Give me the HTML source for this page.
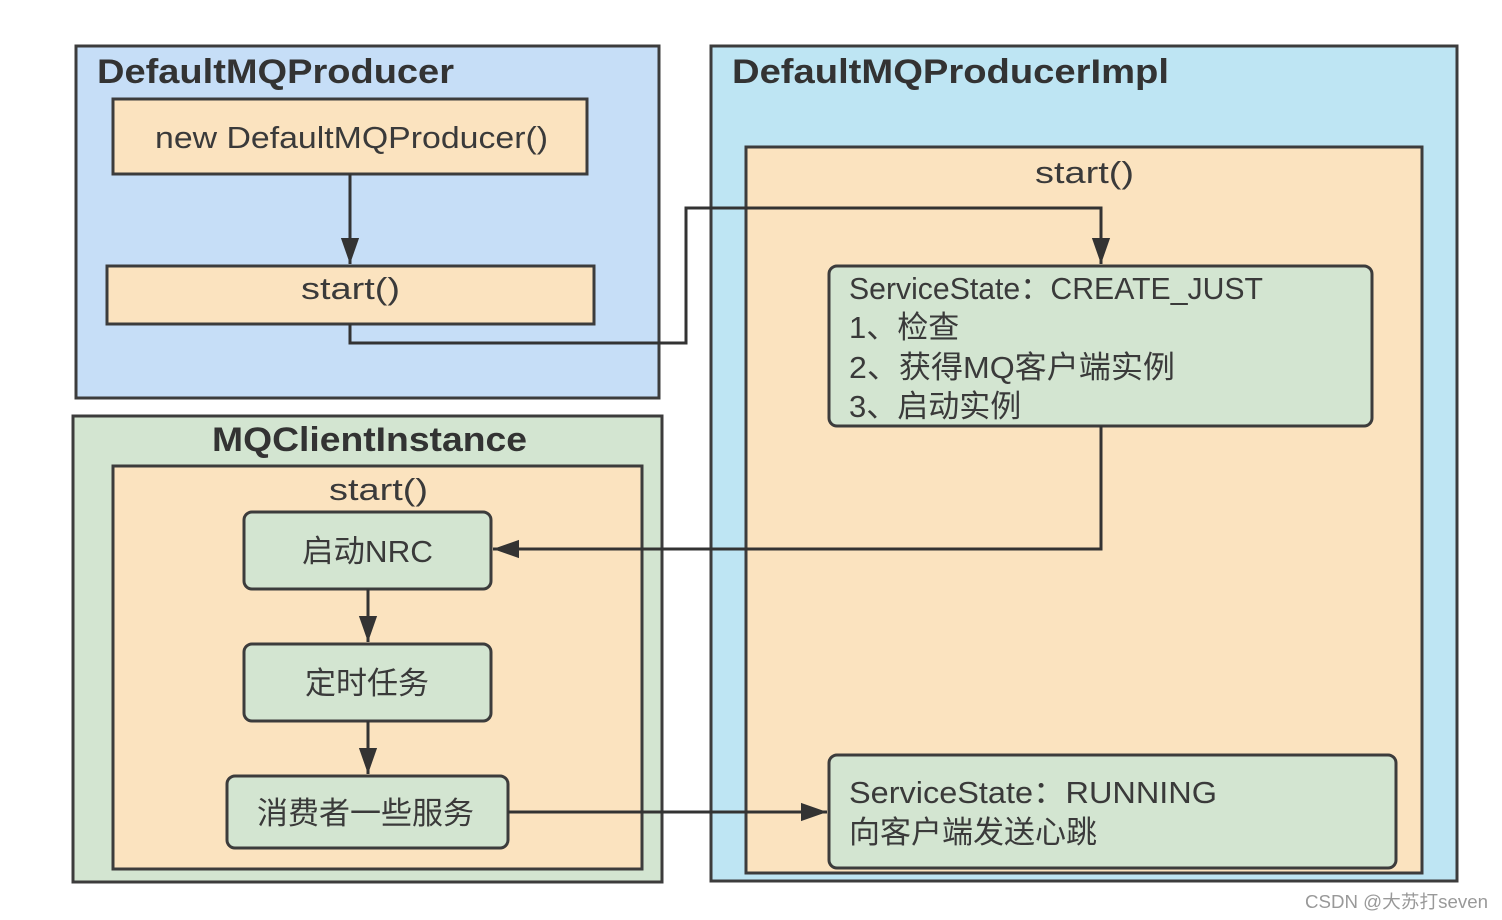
<!DOCTYPE html>
<html><head><meta charset="utf-8"><style>
html,body{margin:0;padding:0;background:#fff;}
svg{display:block}
text{font-family:"Liberation Sans","Noto Sans CJK SC",sans-serif;fill:#3a3a3a;}
.t{font-size:31px;}
.b{font-size:34px;font-weight:bold;fill:#333;}
</style></head><body>
<svg width="1502" height="920" viewBox="0 0 1502 920" xmlns="http://www.w3.org/2000/svg">
<defs>
<marker id="m" viewBox="0 0 10 10" refX="10" refY="5" markerWidth="26" markerHeight="26" orient="auto" markerUnits="userSpaceOnUse"><path d="M0,1.5 L10,5 L0,8.5z" fill="#333"/></marker></defs>
<g stroke="#3c3c3c" stroke-width="3">
<rect x="76" y="46" width="583" height="352" fill="#c6def7"/>
<rect x="113" y="99" width="474" height="75" fill="#fbe3bf"/>
<rect x="107" y="266" width="487" height="58" fill="#fbe3bf"/>
<rect x="711" y="46" width="746" height="835" fill="#bee5f3"/>
<rect x="746" y="147" width="676" height="726" fill="#fbe3bf"/>
<rect x="829" y="266" width="543" height="160" rx="8" fill="#d3e5d1"/>
<rect x="829" y="755" width="567" height="113" rx="8" fill="#d3e5d1"/>
<rect x="73" y="416" width="589" height="466" fill="#d3e5d1"/>
<rect x="113" y="466" width="529" height="403" fill="#fbe3bf"/>
<rect x="244" y="512" width="247" height="77" rx="8" fill="#d3e5d1"/>
<rect x="244" y="644" width="247" height="77" rx="8" fill="#d3e5d1"/>
<rect x="227" y="776" width="281" height="72" rx="8" fill="#d3e5d1"/>
</g>
<g stroke="#333" stroke-width="3" fill="none">
<path d="M350,174 V264" marker-end="url(#m)"/>
<path d="M350,324 V343 H686 V208 H1101 V264" marker-end="url(#m)"/>
<path d="M1101,426 V549 H493" marker-end="url(#m)"/>
<path d="M368,589 V642" marker-end="url(#m)"/>
<path d="M368,721 V774" marker-end="url(#m)"/>
<path d="M508,812 H827" marker-end="url(#m)"/>
</g>
<text class="b" x="97" y="83" textLength="357" lengthAdjust="spacingAndGlyphs">DefaultMQProducer</text>
<text class="b" x="732" y="83" textLength="437" lengthAdjust="spacingAndGlyphs">DefaultMQProducerImpl</text>
<text class="b" x="212" y="451" textLength="315" lengthAdjust="spacingAndGlyphs">MQClientInstance</text>
<text class="t" x="155" y="148" textLength="393" lengthAdjust="spacingAndGlyphs">new DefaultMQProducer()</text>
<text class="t" x="301" y="299" textLength="99" lengthAdjust="spacingAndGlyphs">start()</text>
<text class="t" x="1035" y="183" textLength="99" lengthAdjust="spacingAndGlyphs">start()</text>
<text class="t" x="329" y="500" textLength="99" lengthAdjust="spacingAndGlyphs">start()</text>
<text class="t" x="849" y="299" textLength="414" lengthAdjust="spacingAndGlyphs">ServiceState：CREATE_JUST</text>
<text class="t" x="849" y="338">1、检查</text>
<text class="t" x="849" y="378" textLength="326" lengthAdjust="spacingAndGlyphs">2、获得MQ客户端实例</text>
<text class="t" x="849" y="417">3、启动实例</text>
<text class="t" x="849" y="803" textLength="368" lengthAdjust="spacingAndGlyphs">ServiceState：RUNNING</text>
<text class="t" x="849" y="843">向客户端发送心跳</text>
<text class="t" x="302" y="562" textLength="131" lengthAdjust="spacingAndGlyphs">启动NRC</text>
<text class="t" x="305" y="694">定时任务</text>
<text class="t" x="257" y="824">消费者一些服务</text>
<text x="1305" y="908" textLength="183" lengthAdjust="spacingAndGlyphs" style="font-size:18px;fill:#999">CSDN @大苏打seven</text>
</svg>
</body></html>
